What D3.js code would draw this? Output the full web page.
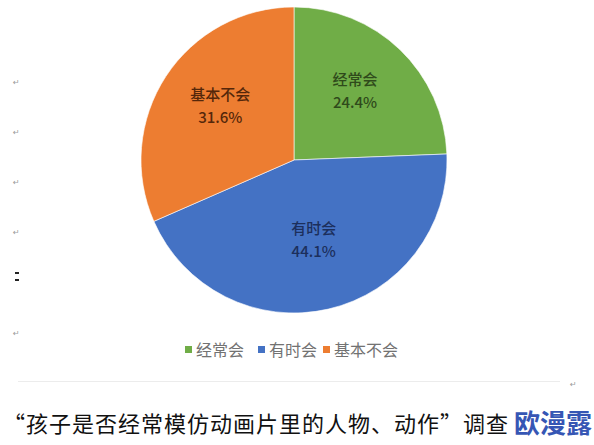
<!DOCTYPE html>
<html>
<head>
<meta charset="utf-8">
<script src="https://cdn.jsdelivr.net/npm/d3@7"></script>
<style>
  html, body { margin: 0; padding: 0; background: #fff; }
  svg text { font-family: "Noto Sans CJK SC", "Noto Sans", sans-serif; }
</style>
</head>
<body>
<div id="chart"></div>
<script>
// survey answers, percent
const categories = ["经常会", "有时会", "基本不会"];
const shares = [24.4, 44.1, 31.6];
const caption = "“孩子是否经常模仿动画片里的人物、动作”调查";

const W = 594, H = 445;
const cx = 294, cy = 160, R = 153;

const sliceColor = d3.scaleOrdinal().domain(categories).range(["#70ad47", "#4472c4", "#ed7d31"]);
const labelColor = d3.scaleOrdinal().domain(categories).range(["#2f4a1b", "#1c2f5c", "#55270a"]);

const svg = d3.select("#chart").append("svg")
  .attr("width", W)
  .attr("height", H);

svg.append("rect").attr("width", W).attr("height", H).attr("fill", "#fff");

const rows = categories.map((c, i) => ({ name: c, value: shares[i] }));

const pie = d3.pie().sort(null).value(d => d.value);
const arc = d3.arc().innerRadius(0).outerRadius(R);
const labelArc = d3.arc().innerRadius(88).outerRadius(88);

const g = svg.append("g").attr("transform", `translate(${cx},${cy})`);

const slices = g.selectAll("g.slice")
  .data(pie(rows))
  .enter()
  .append("g")
  .attr("class", "slice");

slices.append("path")
  .attr("d", arc)
  .attr("fill", d => sliceColor(d.data.name))
  .attr("stroke", "#fff")
  .attr("stroke-width", 0.6);

// name + percent in the middle of each slice
slices.each(function(d) {
  let p = labelArc.centroid(d);
  let t = d3.select(this).append("text")
    .attr("text-anchor", "middle")
    .attr("fill", labelColor(d.data.name))
    .style("font-size", "15px")
    .style("font-weight", 500);
  t.append("tspan").attr("x", p[0]).attr("y", p[1] - 12).text(d.data.name);
  t.append("tspan").attr("x", p[0]).attr("y", p[1] + 11).text(d.data.value.toFixed(1) + "%");
});

// legend under the pie
const legendX = d3.scaleOrdinal().domain(categories).range([185, 258, 323]);
const leg = svg.selectAll("g.leg")
  .data(categories)
  .enter()
  .append("g")
  .attr("class", "leg")
  .attr("transform", d => `translate(${legendX(d)},350)`);

leg.append("rect")
  .attr("x", 0).attr("y", -4)
  .attr("width", 7).attr("height", 7)
  .attr("fill", d => sliceColor(d));

leg.append("text")
  .attr("x", 11).attr("y", 6)
  .attr("fill", "#727272")
  .style("font-size", "16px")
  .text(d => d);

// word-document leftovers: return marks and the rule line
const marksY = [82, 132, 182, 232, 333];
svg.selectAll("text.ret")
  .data(marksY)
  .enter()
  .append("text")
  .attr("class", "ret")
  .attr("x", 13).attr("y", d => d + 3)
  .attr("fill", "#9a9a9a")
  .style("font-family", "DejaVu Sans")
  .style("font-size", "8px")
  .text("↵");

svg.append("rect").attr("x", 15).attr("y", 272).attr("width", 4).attr("height", 2).attr("fill", "#222");
svg.append("rect").attr("x", 15).attr("y", 279).attr("width", 4).attr("height", 2).attr("fill", "#222");

svg.append("line")
  .attr("x1", 18).attr("x2", 560)
  .attr("y1", 381.5).attr("y2", 381.5)
  .attr("stroke", "#ececec")
  .attr("stroke-width", 1);

svg.append("text")
  .attr("x", 570).attr("y", 387)
  .attr("fill", "#9a9a9a")
  .style("font-family", "DejaVu Sans")
  .style("font-size", "8px")
  .text("↵");

// caption
svg.append("text")
  .attr("x", 3).attr("y", 432)
  .attr("fill", "#111")
  .style("font-size", "22px")
  .style("letter-spacing", "1px")
  .text(caption);

// watermark
svg.append("text")
  .attr("x", 514).attr("y", 433)
  .attr("fill", "#3656b4")
  .attr("stroke", "#fff")
  .attr("stroke-width", 2)
  .attr("paint-order", "stroke")
  .style("font-size", "26px")
  .style("font-weight", 700)
  .text("欧漫露");
</script>
</body>
</html>
